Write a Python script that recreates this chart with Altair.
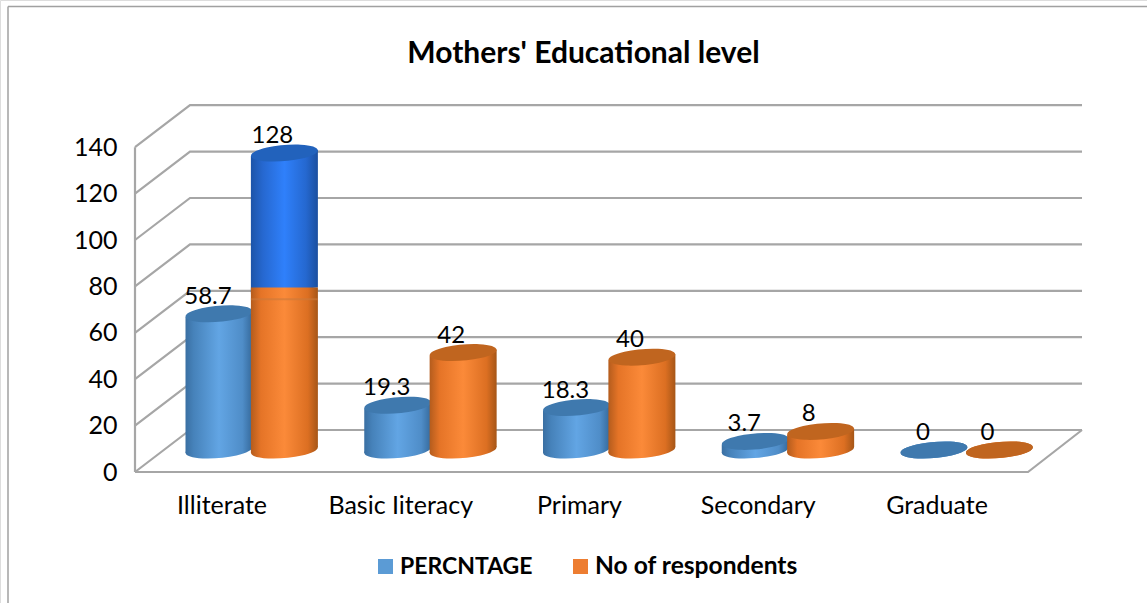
import altair as alt
import pandas as pd

# Survey values
categories = ["Illiterate", "Basic Iiteracy", "Primary", "Secondary", "Graduate"]
percentage = [58.7, 19.3, 18.3, 3.7, 0]
respondents = [128, 42, 40, 8, 0]
percentage_labels = ["58.7", "19.3", "18.3", "3.7", "0"]
respondent_labels = ["128", "42", "40", "8", "0"]
y_ticks = [0, 20, 40, 60, 80, 100, 120, 140]
recolour_at = 70  # the tallest column changes colour above this value
seam_at = 65      # faint seam inside the tallest column

# Pseudo-3D box: offsets are expressed in the units of the two scales
W, H = 1147, 603
PX_PER_SLOT = 178.75
PX_PER_UNIT = 2.32
FRONT_LEFT = (135 - 250) / PX_PER_SLOT
FRONT_RIGHT = (1028 - 250) / PX_PER_SLOT
BACK_LEFT = (190 - 250) / PX_PER_SLOT
BACK_RIGHT = (1082 - 250) / PX_PER_SLOT
BACK_LIFT = 42 / PX_PER_UNIT
BASE_LIFT = 22 / PX_PER_UNIT
TILT = 3 / PX_PER_UNIT
HALF = 33.5 / PX_PER_SLOT
SIZE = 67 ** 2
FONT = "Lato"
GRID = "#a6a6a6"

x_scale = alt.Scale(domain=[-250 / PX_PER_SLOT, (W - 250) / PX_PER_SLOT], range=[0, W], nice=False, zero=False)
y_scale = alt.Scale(domain=[(472 - H) / PX_PER_UNIT, 472 / PX_PER_UNIT], range=[H, 0], nice=False, zero=False)
y_axis = alt.Axis(
    values=y_ticks, offset=-135, domain=False, ticks=False, grid=False, title=None,
    labelFont=FONT, labelFontSize=25, labelColor="#000000", labelPadding=18,
)
X = alt.X("x:Q", scale=x_scale, axis=None)
Y = alt.Y("y:Q", scale=y_scale, axis=y_axis)

ELLIPSE = "M-0.996,0.087 A1,0.235 -5 1 1 0.996,-0.087 A1,0.235 -5 1 1 -0.996,0.087 Z"


def shade(stops):
    return alt.Gradient(
        gradient="linear", x1=0, x2=1, y1=0, y2=0,
        stops=[alt.GradientStop(offset=o, color=c) for o, c in stops],
    )


BLUE = shade([(0, "#3a6fa2"), (0.12, "#4682ba"), (0.5, "#62a5e4"), (0.85, "#4f8dc8"), (1, "#35699b")])
ORANGE = shade([(0, "#b45c1d"), (0.15, "#e57427"), (0.5, "#fb8a39"), (0.85, "#dc6f22"), (1, "#a65617")])
BRIGHT = shade([(0, "#1c54a8"), (0.18, "#2668d0"), (0.5, "#2f80fb"), (0.82, "#2568d0"), (1, "#1b4f9f")])

# Walls and floor of the box
wall_rows = []
for t in y_ticks:
    wall_rows += [
        {"line": f"g{t}", "i": 0, "x": FRONT_LEFT, "y": t},
        {"line": f"g{t}", "i": 1, "x": BACK_LEFT, "y": t + BACK_LIFT},
        {"line": f"g{t}", "i": 2, "x": BACK_RIGHT, "y": t + BACK_LIFT},
    ]
wall_rows += [
    {"line": "edge", "i": 0, "x": FRONT_LEFT, "y": y_ticks[0]},
    {"line": "edge", "i": 1, "x": FRONT_LEFT, "y": y_ticks[-1]},
    {"line": "floor", "i": 0, "x": FRONT_LEFT, "y": y_ticks[0]},
    {"line": "floor", "i": 1, "x": FRONT_RIGHT, "y": y_ticks[0]},
    {"line": "floor", "i": 2, "x": BACK_RIGHT, "y": BACK_LIFT},
]
walls = alt.Chart(pd.DataFrame(wall_rows)).mark_line(color=GRID, strokeWidth=2.2).encode(
    x=X, y=Y, detail="line:N", order="i:Q"
)


def body_rows(centres, low, high, tilted):
    rows = []
    for n, (c, a, b, t) in enumerate(zip(centres, low, high, tilted)):
        d = TILT if t else 0
        rows.append({"bar": n, "x": c - HALF, "y": b + BASE_LIFT - d, "y2": a + BASE_LIFT - TILT})
        rows.append({"bar": n, "x": c + HALF, "y": b + BASE_LIFT + d, "y2": a + BASE_LIFT + TILT})
    return pd.DataFrame(rows)


def body(df, fill):
    return alt.Chart(df).mark_area(color=fill, orient="vertical", opacity=1).encode(
        x=X, y=Y, y2="y2:Q", detail="bar:N"
    )


def disc(centres, levels, fill):
    df = pd.DataFrame({"x": centres, "y": [v + BASE_LIFT for v in levels]})
    return alt.Chart(df).mark_point(
        shape=ELLIPSE, size=SIZE, filled=True, color=fill, opacity=1, strokeWidth=0
    ).encode(x=X, y=Y)


slots = list(range(len(categories)))
blue_x = [s - HALF + 2.5 / PX_PER_SLOT for s in slots]
orange_x = [s + HALF + 0.005 for s in slots]
orange_top = [min(v, recolour_at) for v in respondents]
orange_tilt = [v <= recolour_at for v in respondents]
tall = [i for i, v in enumerate(respondents) if v > recolour_at]
tall_x = [orange_x[i] for i in tall]

layers = [
    walls,
    # first series
    disc(blue_x, [0] * 5, BLUE),
    body(body_rows(blue_x, [0] * 5, percentage, [True] * 5), BLUE),
    disc(blue_x, percentage, "#3f79ae"),
    # second series, whose tallest column is recoloured above the change point
    body(body_rows(tall_x, [recolour_at - TILT] * len(tall), [respondents[i] for i in tall], [True] * len(tall)), BRIGHT),
    disc(tall_x, [respondents[i] for i in tall], "#2262bc"),
    disc(orange_x, [0] * 5, ORANGE),
    body(body_rows(orange_x, [0] * 5, orange_top, orange_tilt), ORANGE),
    disc([x for x, v in zip(orange_x, respondents) if v <= recolour_at],
         [v for v in respondents if v <= recolour_at], "#c0651f"),
]

# Faint seam across the recoloured column
seam_rows = []
for c in tall_x:
    seam_rows += [
        {"i": 0, "x": c - HALF, "y": seam_at + BASE_LIFT},
        {"i": 1, "x": c + HALF, "y": seam_at + BASE_LIFT},
    ]
layers.append(
    alt.Chart(pd.DataFrame(seam_rows)).mark_line(color="#c97a3c", strokeWidth=2, opacity=0.6).encode(
        x=X, y=Y, order="i:Q"
    )
)

# Value labels above each column
for centres, vals, labels, shift in [
    (blue_x, percentage, percentage_labels, -11),
    (orange_x, respondents, respondent_labels, -12),
]:
    label_df = pd.DataFrame({"x": centres, "y": [v + BASE_LIFT for v in vals], "t": labels})
    layers.append(
        alt.Chart(label_df).mark_text(font=FONT, fontSize=24, color="#000000", dx=shift, dy=-17).encode(
            x=X, y=Y, text="t:N"
        )
    )

# Category names under the floor
cat_df = pd.DataFrame({"x": [s - 28 / PX_PER_SLOT for s in slots], "t": categories})
layers.append(
    alt.Chart(cat_df).mark_text(font=FONT, fontSize=25, color="#000000").encode(
        x=X, y=alt.value(506), text="t:N"
    )
)

# Legend along the bottom
legend_names = ["PERCNTAGE", "No of respondents"]
legend_colours = ["#5b9bd5", "#ed7d31"]
legend_box_x = [378, 573]
legend_sizes = [23, 24.6]
for name, colour, bx, fs in zip(legend_names, legend_colours, legend_box_x, legend_sizes):
    row = pd.DataFrame({"t": [name]})
    layers.append(
        alt.Chart(row).mark_rect(color=colour).encode(
            x=alt.value(bx), x2=alt.value(bx + 15), y=alt.value(559), y2=alt.value(574)
        )
    )
    layers.append(
        alt.Chart(row).mark_text(font=FONT, fontSize=fs, fontWeight="bold", color="#000000", align="left").encode(
            x=alt.value(bx + 22), y=alt.value(567), text="t:N"
        )
    )

# Frame: top and left edges only
frame = pd.DataFrame({"t": ["frame"]})
layers.append(alt.Chart(frame).mark_rule(color="#a0a0a0", strokeWidth=1.5).encode(
    x=alt.value(8), x2=alt.value(W), y=alt.value(6.5)))
layers.append(alt.Chart(frame).mark_rule(color="#a0a0a0", strokeWidth=1.5).encode(
    x=alt.value(8), y=alt.value(6.5), y2=alt.value(H)))

chart = (
    alt.layer(*layers)
    .properties(
        width=W,
        height=H,
        padding=0,
        autosize=alt.AutoSizeParams(type="none"),
        title=alt.TitleParams(
            "Mothers' Educational level", font=FONT, fontSize=30, fontWeight="bold",
            color="#000000", anchor="middle", dx=10, offset=-69,
        ),
    )
    .configure_view(strokeWidth=0)
    .configure(background="#ffffff")
)

chart.save("out.html", embed_options={"renderer": "svg", "actions": False})
